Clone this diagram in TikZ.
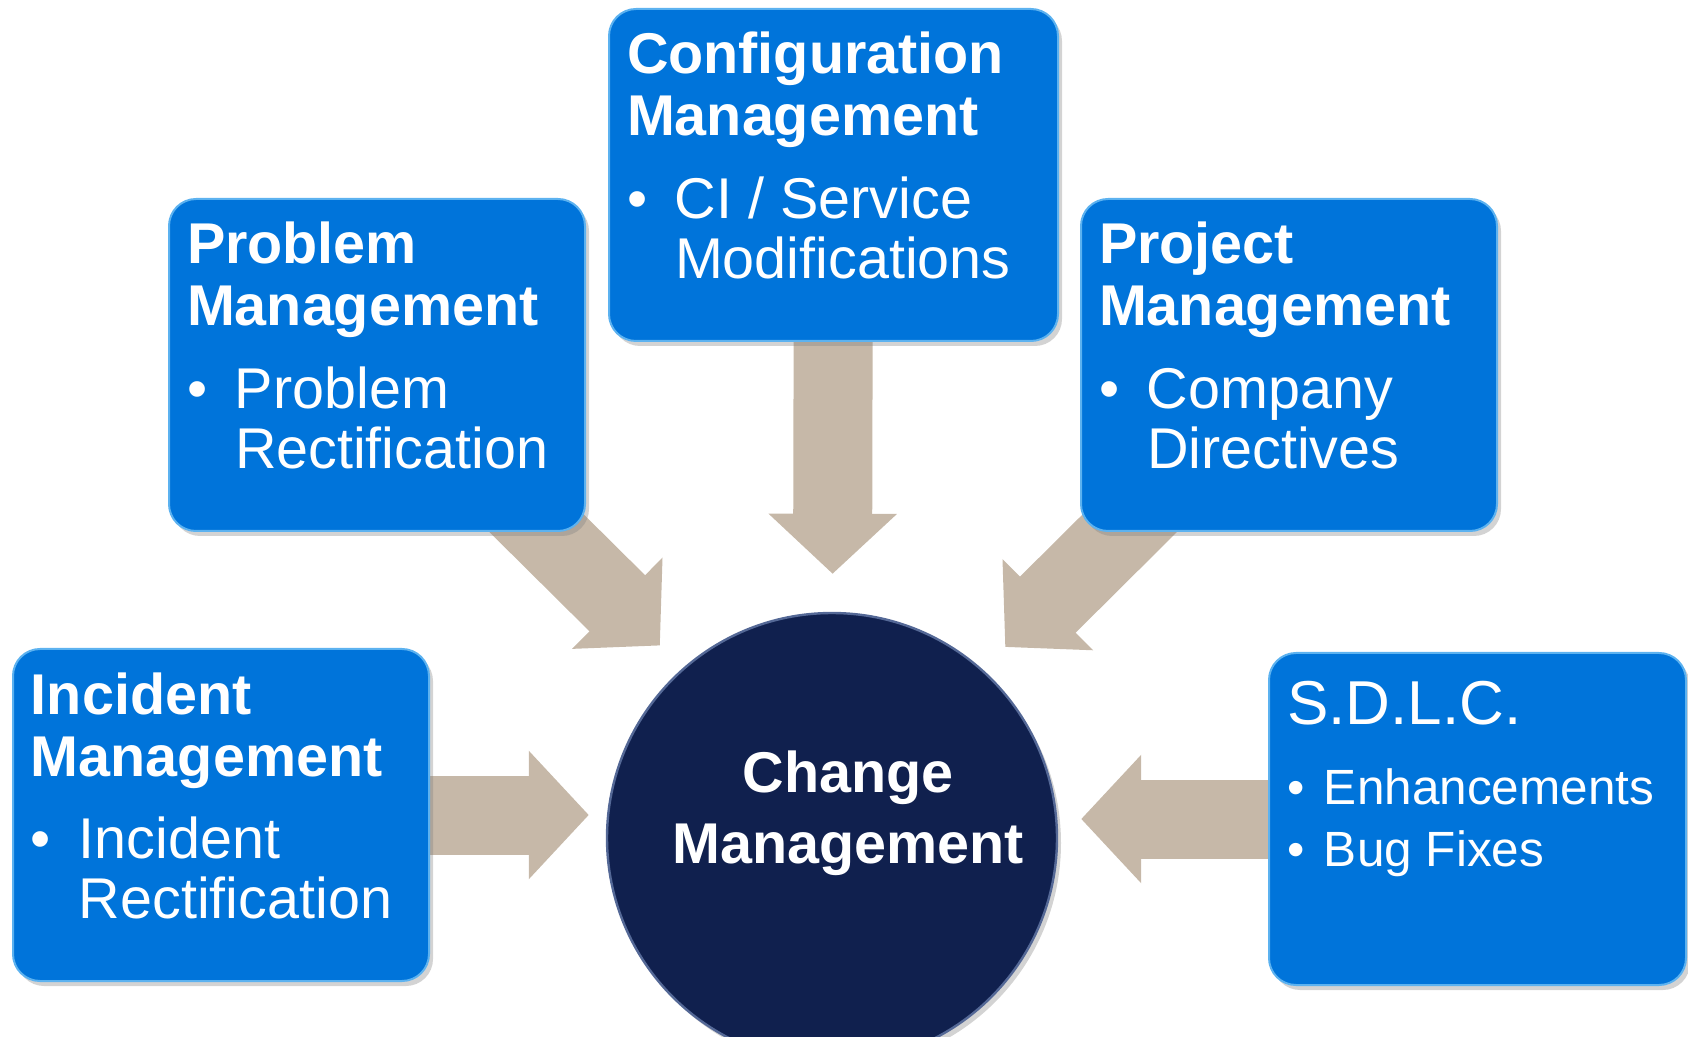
\documentclass[tikz,border=0pt]{standalone}
\usepackage{fontspec}
\setmainfont{Liberation Sans}
\usetikzlibrary{arrows.meta,shadows,backgrounds,positioning}

\definecolor{boxblue}{RGB}{0,116,218}
\definecolor{boxrim}{RGB}{92,178,240}
\definecolor{hubnavy}{RGB}{16,32,78}
\definecolor{hubrim}{RGB}{84,104,150}
\definecolor{feedtan}{RGB}{198,184,168}

\newcommand{\headfont}{\fontsize{28.75pt}{31pt}\selectfont\bfseries}
\newcommand{\itemfont}{\fontsize{28.75pt}{30pt}\selectfont\mdseries}
\newcommand{\bitem}[2][24pt]{\par\hangindent=#1\hangafter=1\noindent\makebox[#1][l]{\textbullet}#2}

\tikzset{
  procbox/.style={rectangle, rounded corners=13.5pt, fill=boxblue, draw=boxrim, line width=1pt,
    text=white, anchor=north west, inner xsep=9pt, inner ysep=0pt,
    text height=32.5pt, text depth=133.5pt,
    drop shadow={shadow xshift=2pt, shadow yshift=-2.5pt, opacity=.35}},
  hub/.style={circle, fill=hubnavy, draw=hubrim, line width=1.2pt, minimum size=225pt, inner sep=0pt,
    drop shadow={shadow xshift=2pt, shadow yshift=-2.5pt, opacity=.35}},
  hubtext/.style={text=white, inner sep=0pt, anchor=base,
    font=\fontsize{28.75pt}{35.5pt}\selectfont\bfseries},
  feed/.style={draw=feedtan, line width=39.5pt, -{Triangle[width=62.5pt, length=30pt]}}
}

\begin{document}
\begin{tikzpicture}[x=0.5pt, y=-0.5pt]
    \useasboundingbox (0,0) rectangle (1688,1037);

    \node[hub] (change) at (832,838) {};
    \node[hubtext] (change-label) at ([xshift=8pt, yshift=23pt]change.center)
        {\parbox[t]{220pt}{\centering Change\\Management}};

    \node[procbox] (config) at (608,8)
        {\parbox[t]{206.5pt}{\headfont Configuration\\Management\par
         \vskip 11.5pt\itemfont\bitem{CI / Service\\Modifications}}};
    \node[procbox] (problem) at (168,198)
        {\parbox[t]{190pt}{\headfont Problem\\Management\par
         \vskip 11.5pt\itemfont\bitem{Problem\\Rectification}}};
    \node[procbox] (project) at (1080,198)
        {\parbox[t]{190pt}{\headfont Project\\Management\par
         \vskip 11.5pt\itemfont\bitem{Company\\Directives}}};
    \node[procbox] (incident) at (12,648)
        {\parbox[t]{190pt}{\headfont Incident\\Management\par
         \vskip 11.5pt\itemfont\bitem{Incident\\Rectification}}};
    \node[procbox, text height=35.5pt, text depth=130.5pt] (sdlc) at (1268,652)
        {\parbox[t]{190.5pt}{\fontsize{31pt}{31pt}\selectfont S.D.L.C.\par
         \vskip 9pt\fontsize{24.75pt}{31pt}\selectfont
         \bitem[18.5pt]{Enhancements}\bitem[18.5pt]{Bug Fixes}}};

    % block arrows run under the boxes
    \begin{pgfonlayer}{background}
        \draw[feed, shorten >=19pt] (config) -- (change);
        \draw[feed, shorten >=8.5pt] (incident.east) -- (incident.east -| change.west);
        \draw[feed, shorten >=11.5pt] (sdlc.west) -- (sdlc.west -| change.east);
        \draw[feed, shorten >=136.7pt] (problem.center) -- ([xshift=11pt]change.center);
        \draw[feed, shorten >=135.5pt] (project.center) -- ([xshift=-9.5pt]change.center);
    \end{pgfonlayer}
\end{tikzpicture}
\end{document}
